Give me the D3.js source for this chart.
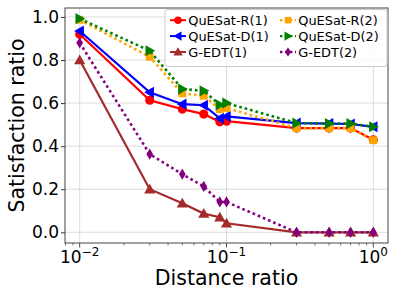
<!DOCTYPE html>
<html>
<head>
<meta charset="utf-8">
<script src="https://cdn.jsdelivr.net/npm/d3@7"></script>
<style>
  body { margin: 0; background: #fff; }
  text { font-family: "DejaVu Sans", sans-serif; }
</style>
</head>
<body>
<div id="chart"></div>
<script>
// distance ratios on the x axis
const distances = [0.01, 0.03, 0.05, 0.07, 0.09, 0.1, 0.3, 0.5, 0.7, 1.0];

// satisfaction ratio per method
const quesatR1 = [0.92, 0.613, 0.572, 0.549, 0.513, 0.516, 0.484, 0.484, 0.484, 0.43];
const quesatD1 = [0.935, 0.65, 0.595, 0.59, 0.529, 0.538, 0.507, 0.505, 0.503, 0.49];
const gedt1    = [0.80, 0.20, 0.135, 0.087, 0.07, 0.042, 0, 0, 0, 0];
const quesatR2 = [0.987, 0.815, 0.645, 0.634, 0.572, 0.577, 0.484, 0.484, 0.484, 0.428];
const quesatD2 = [0.992, 0.843, 0.665, 0.657, 0.592, 0.60, 0.507, 0.505, 0.505, 0.49];
const gedt2    = [0.88, 0.363, 0.27, 0.213, 0.141, 0.141, 0, 0, 0, 0];

const seriesNames = ["QuESat-R(1)", "QuESat-D(1)", "G-EDT(1)", "QuESat-R(2)", "QuESat-D(2)", "G-EDT(2)"];
const yTicks = [0.0, 0.2, 0.4, 0.6, 0.8, 1.0];
const xTicks = [0.01, 0.1, 1];
const xTickExp = ["\u22122", "\u22121", "0"];

const series = [
  { name: seriesNames[0], values: quesatR1, color: "red", marker: "circle", dotted: false },
  { name: seriesNames[1], values: quesatD1, color: "blue", marker: "left", dotted: false },
  { name: seriesNames[2], values: gedt1, color: "#a52a2a", marker: "up", dotted: false },
  { name: seriesNames[3], values: quesatR2, color: "orange", marker: "square", dotted: true },
  { name: seriesNames[4], values: quesatD2, color: "green", marker: "right", dotted: true },
  { name: seriesNames[5], values: gedt2, color: "purple", marker: "diamond", dotted: true }
];

const W = 399, H = 299;
const margin = { top: 8, right: 11, bottom: 56, left: 65 };
const width = W - margin.left - margin.right,
  height = H - margin.top - margin.bottom;

const svg = d3.select("#chart").append("svg")
  .attr("width", W).attr("height", H);

const g = svg.append("g")
  .attr("transform", `translate(${margin.left},${margin.top})`);

// scales with matplotlib style 5% padding
const x = d3.scaleLog()
  .domain([Math.pow(10, -2.1), Math.pow(10, 0.1)])
  .range([0, width]);
const y = d3.scaleLinear()
  .domain([-0.0496, 1.0416])
  .range([height, 0]);

// grid
g.append("g").selectAll("line").data(yTicks).join("line")
  .attr("x1", 0).attr("x2", width)
  .attr("y1", d => y(d)).attr("y2", d => y(d))
  .attr("stroke", "#d3d3d3").attr("stroke-width", 0.8);
g.append("g").selectAll("line").data(xTicks).join("line")
  .attr("y1", 0).attr("y2", height)
  .attr("x1", d => x(d)).attr("x2", d => x(d))
  .attr("stroke", "#d3d3d3").attr("stroke-width", 0.8);

// y axis
const yAxis = g.append("g")
  .call(d3.axisLeft(y).tickValues(yTicks).tickFormat(d3.format(".1f")).tickSize(4).tickSizeOuter(0));
yAxis.select(".domain").remove();
yAxis.selectAll("text").attr("font-size", 17).attr("fill", "#000")
  .attr("font-family", "DejaVu Sans").attr("x", -6);
yAxis.selectAll("line").attr("stroke", "#333");

// x axis with minor ticks
const minor = [];
for (let e = -3; e <= 0; e++) {
  for (let m = 2; m <= 9; m++) {
    const v = m * Math.pow(10, e);
    if (v > x.domain()[0] && v < x.domain()[1]) minor.push(v);
  }
}
const xAxis = g.append("g").attr("transform", `translate(0,${height})`);
xAxis.selectAll(".minor").data(minor).join("line")
  .attr("x1", d => x(d)).attr("x2", d => x(d))
  .attr("y1", 0).attr("y2", 2.5)
  .attr("stroke", "#333").attr("stroke-width", 0.7);
xAxis.selectAll(".major").data(xTicks).join("line")
  .attr("x1", d => x(d)).attr("x2", d => x(d))
  .attr("y1", 0).attr("y2", 4.5)
  .attr("stroke", "#333").attr("stroke-width", 0.9);
const xt = xAxis.selectAll(".lbl").data(xTicks).join("text")
  .attr("x", d => x(d)).attr("y", 20)
  .attr("text-anchor", "middle")
  .attr("font-size", 17).attr("fill", "#000");
xt.append("tspan").text("10");
xt.append("tspan").text((d, i) => xTickExp[i])
  .attr("dy", -7).attr("font-size", 12);

// frame
g.append("rect")
  .attr("width", width).attr("height", height)
  .attr("fill", "none").attr("stroke", "#444").attr("stroke-width", 1);

// marker shapes
function markerPath(type, s) {
  if (type === "circle") return d3.symbol(d3.symbolCircle, s * s * 0.8)();
  if (type === "square") return d3.symbol(d3.symbolSquare, s * s * 0.75)();
  const r = s * 0.62;
  if (type === "up") return `M0,${-r}L${r},${r * 0.75}L${-r},${r * 0.75}Z`;
  if (type === "left") return `M${-r},0L${r * 0.75},${-r}L${r * 0.75},${r}Z`;
  if (type === "right") return `M${r},0L${-r * 0.75},${-r}L${-r * 0.75},${r}Z`;
  if (type === "diamond") return `M0,${-r}L${r * 0.6},0L0,${r}L${-r * 0.6},0Z`;
}

const line = d3.line()
  .x((d, i) => x(distances[i]))
  .y(d => y(d));

series.forEach(s => {
  const sg = g.append("g");
  sg.append("path")
    .datum(s.values)
    .attr("d", line)
    .attr("fill", "none")
    .attr("stroke", s.color)
    .attr("stroke-width", s.dotted ? 2.6 : 2.2)
    .attr("stroke-dasharray", s.dotted ? "2.6,3" : null);
  sg.selectAll("path.m").data(s.values).join("path")
    .attr("class", "m")
    .attr("transform", (d, i) => `translate(${x(distances[i])},${y(d)})`)
    .attr("d", markerPath(s.marker, 9))
    .attr("fill", s.color);
});

// legend, two columns filled column-wise
const lg = g.append("g").attr("transform", "translate(100,1.5)");
lg.append("rect")
  .attr("width", 222).attr("height", 57)
  .attr("rx", 3)
  .attr("fill", "#fff").attr("fill-opacity", 0.8)
  .attr("stroke", "#ccc");
series.forEach((s, i) => {
  const col = Math.floor(i / 3), row = i % 3;
  const lx = 5 + col * 110, ly = 10.7 + row * 15.9;
  const e = lg.append("g").attr("transform", `translate(${lx},${ly})`);
  e.append("line")
    .attr("x1", 0).attr("x2", 16).attr("y1", 0).attr("y2", 0)
    .attr("stroke", s.color)
    .attr("stroke-width", s.dotted ? 2.4 : 2)
    .attr("stroke-dasharray", s.dotted ? "2.4,2.6" : null);
  e.append("path")
    .attr("transform", "translate(8,0)")
    .attr("d", markerPath(s.marker, 7.5))
    .attr("fill", s.color);
  e.append("text")
    .attr("x", 18.3).attr("y", 0).attr("dy", "0.36em")
    .attr("font-size", 12.9).attr("fill", "#000")
    .text(s.name);
});

// axis titles
svg.append("text")
  .attr("x", margin.left + width / 2).attr("y", 285)
  .attr("text-anchor", "middle")
  .attr("font-size", 20.5).attr("fill", "#000")
  .text("Distance ratio");
svg.append("text")
  .attr("transform", `translate(24,${margin.top + height / 2}) rotate(-90)`)
  .attr("text-anchor", "middle")
  .attr("font-size", 20.5).attr("fill", "#000")
  .text("Satisfaction ratio");
</script>
</body>
</html>
